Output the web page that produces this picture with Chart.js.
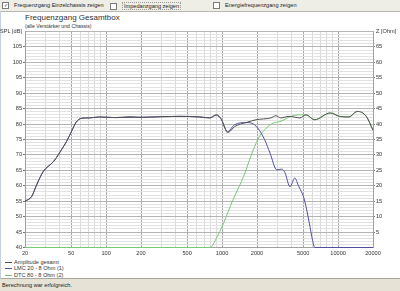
<!DOCTYPE html>
<html>
<head>
<meta charset="utf-8">
<script src="https://cdn.jsdelivr.net/npm/chart.js@4"></script>
<style>
body{margin:0;width:400px;height:291px;overflow:hidden;background:#ece9d8;font-family:"Liberation Sans",Arial,sans-serif;position:relative;}
#top{position:absolute;left:0;top:0;width:400px;height:11px;background:#eeede6;font-size:5.6px;color:#222;}
.cb{position:absolute;top:2px;height:8px;line-height:7px;white-space:nowrap;}
.box{display:inline-block;width:5px;height:5px;border:1px solid #7a7a7a;background:#fff;vertical-align:middle;margin-right:5px;font-size:5px;line-height:5px;text-align:center;}
.focus{display:inline-block;vertical-align:middle;line-height:6px;height:6px;padding:0 1px;border:1px dotted #999;}
#panel{position:absolute;left:0;top:11px;width:399px;height:266px;background:#fff;border-top:1px solid #b8b8b0;border-left:1px solid #c8d0e0;border-bottom:1px solid #a8a8a0;}
#status{position:absolute;left:0;top:279px;width:400px;height:12px;background:#e6e3d6;font-size:5.6px;line-height:12px;color:#222;padding-left:2px;}
#title{position:absolute;left:25px;top:13px;font-size:8px;color:#333;}
#sub{position:absolute;left:25px;top:22.5px;font-size:5.2px;color:#333;}
#legend{position:absolute;left:5px;top:258.5px;font-size:5.6px;color:#333;}
#legend div{height:6.5px;line-height:6.5px;white-space:nowrap;}
#legend span{display:inline-block;width:7px;height:0;border-top:1px solid;vertical-align:middle;margin-right:2px;}
canvas{position:absolute;left:0;top:0;}
</style>
</head>
<body>
<div id="top">
  <div class="cb" style="left:2px"><span class="box">✓</span>Frequenzgang Einzelchassis zeigen</div>
  <div class="cb" style="left:110px"><span class="box"></span><span class="focus">Impedanzgang zeigen</span></div>
  <div class="cb" style="left:213px"><span class="box"></span>Energiefrequenzgang zeigen</div>
</div>
<div id="panel"></div>
<div id="title">Frequenzgang Gesamtbox</div>
<div id="sub">(alle Verstärker und Chassis)</div>
<div id="legend">
  <div><span style="border-color:#505050"></span>Amplitude gesamt</div>
  <div><span style="border-color:#5050a0"></span>LMC 20 - 8 Ohm (1)</div>
  <div><span style="border-color:#78c878"></span>DTC 80 - 8 Ohm (2)</div>
</div>
<div id="status">Berechnung war erfolgreich.</div>
<canvas id="c" width="400" height="291"></canvas>
<script>
// Amplitude gesamt
const totalFreq=[20,22.8,25.2,28.7,35.3,41.3,45.7,50.6,55,61.5,72,88,120,160,200,300,434,644,782,893,990,1059,1127,1284,1616,1964,2634,2906,3200,3780,4690,5300,6260,8580,10300,12400,14600,17500,20000];
const totalDb=[55,56.5,60.3,64.6,67.9,71.7,74.4,77.8,80.5,81.9,82,82.3,82.1,82.4,82.2,82.4,82.5,82.3,82,83,81.4,78.7,77.3,79.2,80.5,81.4,82,82.7,82,82.5,82,83,81.4,83.6,82.5,82.3,84.1,82.5,78];
// LMC 20 (Tieftoener)
const lmcFreq=[20,22.8,25.2,28.7,35.3,41.3,45.7,50.6,55,61.5,72,88,120,200,434,644,782,893,990,1059,1100,1284,1616,1800,2030,2330,2590,2960,3270,3480,3850,4240,4520,5130,5650,6020,6300,20000];
const lmcDb=[55,56.5,60.3,64.6,67.9,71.7,74.4,77.8,80.5,81.9,82,82.3,82.1,82.2,82.5,82.3,82,82.9,81.4,78.7,77.4,79.8,80.5,80.3,78.7,74.9,70.6,65.2,65.4,64.3,59.7,62.5,60.3,55.4,47.9,42.4,40,40];
// DTC 80 (Hochtoener)
const dtcFreq=[20,785,893,1030,1240,1530,1860,2100,2400,2750,3150,4070,5000,5300,6260,8580,10300,12400,14600,17500,20000];
const dtcDb=[40,40,43,47.9,55.4,63,71.7,76,78.7,80.3,80.8,82.7,83,83,81.4,83.6,82.5,82.3,84.1,82.5,78];

const xGrid=[20,30,40,50,60,70,80,90,100,200,300,400,500,600,700,800,900,1000,2000,3000,4000,5000,6000,7000,8000,9000,10000,20000];
const xLabels=[20,50,100,200,500,1000,2000,5000,10000,20000];

const pts=(f,v)=>f.map((x,i)=>({x:x,y:v[i]}));
const tickFont={family:"Liberation Sans",size:5.6};

new Chart("c",{
  type:"line",
  data:{datasets:[
    {label:"Amplitude gesamt",data:pts(totalFreq,totalDb),borderColor:"#505050",borderWidth:1,pointRadius:0,cubicInterpolationMode:"monotone",clip:2},
    {label:"LMC 20 - 8 Ohm (1)",data:pts(lmcFreq,lmcDb),borderColor:"#5050a0",borderWidth:1,pointRadius:0,cubicInterpolationMode:"monotone",clip:2},
    {label:"DTC 80 - 8 Ohm (2)",data:pts(dtcFreq,dtcDb),borderColor:"#78c878",borderWidth:1,pointRadius:0,cubicInterpolationMode:"monotone",clip:2}
  ]},
  options:{
    responsive:false,animation:false,
    layout:{padding:{top:31.5,left:0,right:0,bottom:0}},
    plugins:{legend:{display:false},tooltip:{enabled:false}},
    scales:{
      x:{type:"logarithmic",min:20,max:20000,
        afterBuildTicks:(s)=>{s.ticks=xGrid.map(v=>({value:v}));},
        afterFit:(s)=>{s.height=43.5;},
        ticks:{autoSkip:false,maxRotation:0,font:tickFont,color:"#333",padding:1,
          callback:(v)=>xLabels.includes(v)?String(v):""},
        grid:{color:(c)=>xLabels.includes(c.tick.value)?"#a8a8a8":"#dadada",tickLength:2,tickColor:"transparent"},
        border:{color:"#a0a0a0"}},
      y:{position:"left",min:40,max:110,
        afterBuildTicks:(s)=>{const t=[];for(let v=40;v<=110;v++)t.push({value:v});s.ticks=t;},
        afterFit:(s)=>{s.width=25;},
        ticks:{autoSkip:false,font:tickFont,color:"#333",padding:1,
          callback:(v)=>v==110?"SPL [dB]":(v%5==0?String(v):"")},
        grid:{color:(c)=>c.tick.value%5==0?"#b4b4b4":"#e2e2e2",tickLength:2,
          tickColor:(c)=>c.tick.value%5==0&&c.tick.value<110?"#777":"transparent"},
        border:{color:"#a0a0a0"}},
      z:{position:"right",min:0,max:70,
        afterBuildTicks:(s)=>{const t=[];for(let v=0;v<=70;v+=5)t.push({value:v});s.ticks=t;},
        afterFit:(s)=>{s.width=27;},
        ticks:{autoSkip:false,font:tickFont,color:"#333",padding:1,
          callback:(v)=>v==70?"Z [Ohm]":(v==0?"":String(v))},
        grid:{drawOnChartArea:false,tickLength:2,tickColor:(c)=>c.tick.value>0&&c.tick.value<70?"#777":"transparent"},
        border:{color:"#a0a0a0"}}
    }
  }
});
</script>
</body>
</html>
